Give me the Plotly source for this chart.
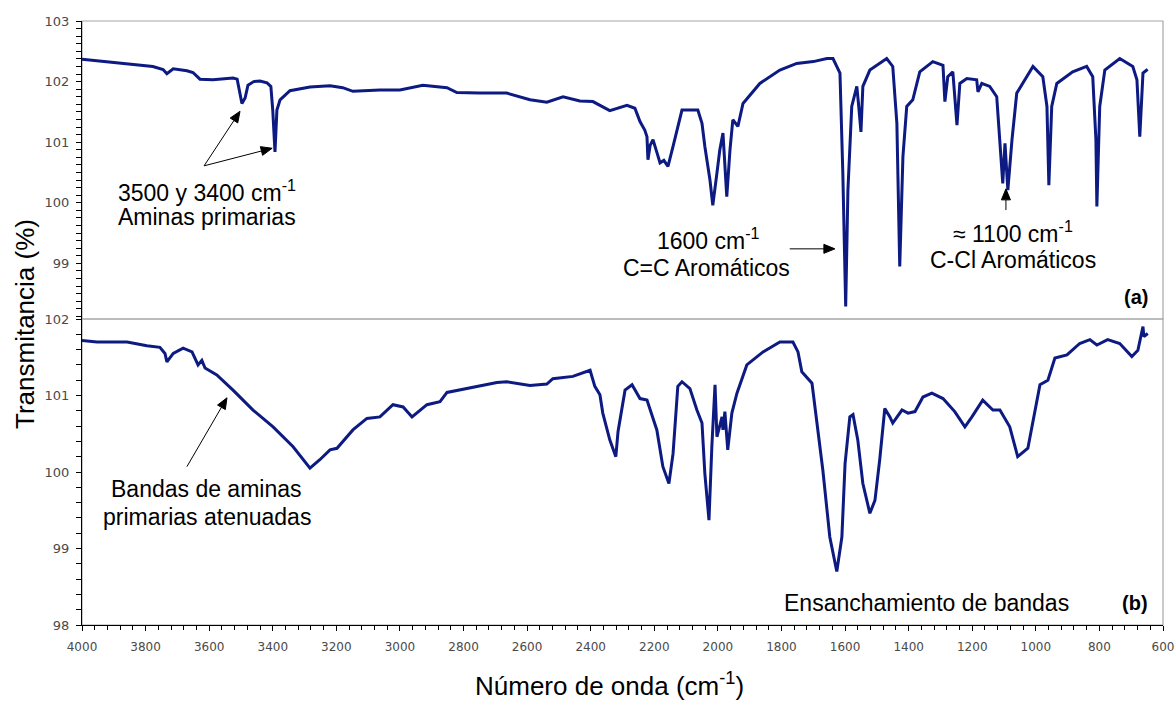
import plotly.graph_objects as go

# ---------------- data ----------------
wn_a = [4000, 3943, 3880, 3818, 3777, 3745, 3733, 3713, 3690, 3670, 3651, 3629, 3588, 3550, 3525, 3512,
        3505, 3497, 3487, 3478, 3460, 3440, 3418, 3406, 3400, 3393, 3387, 3377, 3346, 3283, 3220, 3180,
        3148, 3063, 3000, 2969, 2928, 2852, 2821, 2750, 2695, 2664, 2591, 2538, 2487, 2434, 2393, 2340,
        2286, 2261, 2245, 2230, 2223, 2220, 2213, 2204, 2190, 2182, 2170, 2157, 2141, 2113, 2088, 2063,
        2050, 2041, 2025, 2016, 2003, 1994, 1984, 1972, 1962, 1953, 1937, 1921, 1868, 1805, 1752, 1700,
        1657, 1638, 1616, 1607, 1598, 1591, 1579, 1563, 1557, 1550, 1544, 1522, 1469, 1450, 1437, 1428,
        1418, 1406, 1387, 1365, 1324, 1292, 1286, 1277, 1261, 1248, 1239, 1217, 1186, 1182, 1170, 1145,
        1123, 1113, 1104, 1097, 1088, 1075, 1060, 1009, 978, 965, 959, 950, 934, 884, 840, 821, 811, 808,
        799, 783, 736, 695, 682, 673, 663, 651, 648]
t_a = [102.37, 102.34, 102.30, 102.27, 102.25, 102.20, 102.13, 102.21, 102.19, 102.18, 102.15, 102.04,
       102.03, 102.05, 102.06, 102.04, 101.85, 101.64, 101.73, 101.94, 102.00, 102.01, 101.98, 101.92,
       101.53, 100.84, 101.53, 101.70, 101.85, 101.91, 101.93, 101.90, 101.84, 101.86, 101.86, 101.89,
       101.94, 101.90, 101.82, 101.81, 101.81, 101.81, 101.70, 101.66, 101.75, 101.68, 101.67, 101.52,
       101.61, 101.56, 101.34, 101.20, 101.09, 100.71, 100.95, 101.04, 100.80, 100.66, 100.70, 100.60,
       100.93, 101.53, 101.53, 101.53, 101.31, 100.93, 100.38, 99.96, 100.49, 100.87, 101.15, 100.10,
       100.87, 101.37, 101.26, 101.64, 101.97, 102.19, 102.30, 102.33, 102.38, 102.38, 102.14, 100.49,
       98.29, 100.21, 101.59, 101.92, 101.59, 101.17, 101.92, 102.19, 102.38, 102.25, 101.31, 98.95,
       100.76, 101.59, 101.70, 102.16, 102.33, 102.27, 101.67, 102.08, 102.16, 101.28, 101.97, 102.05,
       102.03, 101.83, 101.97, 101.92, 101.75, 101.04, 100.32, 100.98, 100.21, 101.04, 101.81, 102.25,
       102.08, 101.59, 100.29, 101.59, 101.97, 102.16, 102.25, 102.08, 101.04, 99.94, 101.59, 102.19,
       102.38, 102.25, 102.03, 101.09, 102.14, 102.19, 102.20]

wn_b = [4000, 3953, 3858, 3796, 3755, 3739, 3733, 3713, 3682, 3654, 3635, 3623, 3613, 3576, 3525, 3462,
        3399, 3336, 3283, 3252, 3220, 3198, 3148, 3104, 3063, 3022, 2990, 2962, 2915, 2874, 2852, 2802,
        2695, 2664, 2591, 2538, 2519, 2456, 2402, 2387, 2371, 2362, 2340, 2321, 2314, 2292, 2270, 2245,
        2223, 2192, 2173, 2154, 2141, 2126, 2113, 2088, 2066, 2050, 2041, 2028, 2019, 2009, 2003, 1987,
        1984, 1978, 1969, 1956, 1940, 1909, 1858, 1805, 1764, 1748, 1736, 1704, 1689, 1670, 1648, 1626,
        1610, 1600, 1585, 1575, 1560, 1544, 1522, 1506, 1491, 1475, 1459, 1450, 1421, 1402, 1380, 1355,
        1327, 1292, 1255, 1223, 1201, 1167, 1135, 1113, 1082, 1057, 1025, 1009, 987, 962, 940, 902, 862,
        830, 808, 774, 736, 698, 679, 663, 660, 648]
t_b = [101.72, 101.70, 101.70, 101.65, 101.63, 101.55, 101.44, 101.55, 101.62, 101.57, 101.40, 101.46,
       101.36, 101.27, 101.07, 100.81, 100.59, 100.33, 100.05, 100.16, 100.29, 100.31, 100.55, 100.70,
       100.72, 100.88, 100.85, 100.72, 100.88, 100.92, 101.04, 101.08, 101.17, 101.18, 101.13, 101.15,
       101.22, 101.25, 101.33, 101.12, 101.01, 100.77, 100.42, 100.20, 100.53, 101.07, 101.14, 100.96,
       100.94, 100.55, 100.07, 99.85, 100.24, 101.12, 101.18, 101.09, 100.81, 100.64, 99.98, 99.37,
       100.33, 101.14, 100.46, 100.72, 100.55, 100.79, 100.29, 100.77, 101.03, 101.40, 101.57, 101.70,
       101.70, 101.57, 101.31, 101.16, 100.68, 100.03, 99.15, 98.70, 99.15, 100.11, 100.72, 100.75,
       100.42, 99.85, 99.46, 99.63, 100.16, 100.83, 100.72, 100.64, 100.81, 100.77, 100.79, 100.98,
       101.03, 100.96, 100.79, 100.59, 100.72, 100.94, 100.81, 100.81, 100.59, 100.20, 100.31, 100.68,
       101.14, 101.20, 101.49, 101.53, 101.68, 101.73, 101.66, 101.73, 101.68, 101.51, 101.59, 101.90,
       101.77, 101.81]

x_ticks = [4000, 3800, 3600, 3400, 3200, 3000, 2800, 2600, 2400, 2200, 2000, 1800, 1600, 1400, 1200,
           1000, 800, 600]
ya_ticks = [99, 100, 101, 102, 103]
yb_ticks = [98, 99, 100, 101, 102]

# ---------------- geometry / styling ----------------
W, H = 1176, 703
ML, MR, MT, MB = 82, 13, 21, 78
PW, PH = W - ML - MR, H - MT - MB
SPLIT = 306 / PH
YA_LOW = 103 - 298 / 60.6

LINE = "#0c1a82"
ARIAL = "Liberation Sans, Arial, sans-serif"
TICKF = dict(family="DejaVu Sans, Verdana, sans-serif", size=12, color="#4a4a4a")
FRAME = "#a6a6a6"
ANN = 23

fig = go.Figure()
fig.add_trace(go.Scatter(x=wn_a, y=t_a, mode="lines", xaxis="x2", yaxis="y2",
                         line=dict(color=LINE, width=3), showlegend=False, hoverinfo="skip"))
fig.add_trace(go.Scatter(x=wn_b, y=t_b, mode="lines", xaxis="x", yaxis="y",
                         line=dict(color=LINE, width=3), showlegend=False, hoverinfo="skip"))

common_y = dict(showgrid=False, zeroline=False, showline=True, linecolor="black", linewidth=1,
                ticks="outside", ticklen=5, tickcolor="black", tickfont=dict(TICKF, size=13),
                automargin=False, ticklabelstandoff=4)

fig.update_layout(
    width=W, height=H,
    margin=dict(l=ML, r=MR, t=MT, b=MB, autoexpand=False),
    paper_bgcolor="white", plot_bgcolor="white",
    showlegend=False,
    xaxis=dict(domain=[0, 1], range=[4000, 600], anchor="y", showgrid=False, zeroline=False,
               showline=True, linecolor="black", linewidth=1, ticks="outside", ticklen=5,
               tickcolor="black", tickvals=x_ticks, ticktext=[str(v) for v in x_ticks],
               tickfont=TICKF, automargin=False, ticklabelstandoff=6,
               minor=dict(dtick=40, tick0=0, ticks="outside", ticklen=4, tickcolor="black")),
    xaxis2=dict(domain=[0, 1], range=[4000, 600], anchor="y2", matches="x", showgrid=False,
                zeroline=False, showline=False, showticklabels=False, ticks="", automargin=False),
    yaxis=dict(domain=[0, SPLIT], range=[98, 102], anchor="x", tickvals=yb_ticks,
               minor=dict(dtick=0.2, tick0=98, ticks="outside", ticklen=5, tickcolor="black"),
               **common_y),
    yaxis2=dict(domain=[SPLIT, 1], range=[YA_LOW, 103], anchor="x2", tickvals=ya_ticks,
                minor=dict(dtick=0.125, tick0=99, ticks="outside", ticklen=5, tickcolor="black"),
                **common_y),
)

# gray panel frames
for yr in ["y domain", "y2 domain"]:
    fig.add_shape(type="rect", xref="x domain", yref=yr, x0=0, x1=1, y0=0, y1=1,
                  line=dict(color=FRAME, width=1.2), layer="below")


# pixel helpers for arrows (arrows are drawn as shapes in paper space)
def px(wn):
    return ML + (4000 - wn) / 3400 * PW


def py_a(v):
    return MT + (103 - v) / (103 - YA_LOW) * (PH - 306)


def py_b(v):
    return MT + (PH - 306) + (102 - v) / 4 * 306


def to_paper(x, y):
    return (x - ML) / PW, (H - MB - y) / PH


def arrow(x0, y0, x1, y1, head=11, half=4.5):
    # tail (x0,y0) -> tip (x1,y1), pixel coordinates
    dx, dy = x1 - x0, y1 - y0
    L = (dx * dx + dy * dy) ** 0.5
    ux, uy = dx / L, dy / L
    bx, by = x1 - ux * head, y1 - uy * head
    nx, ny = -uy, ux
    p0 = to_paper(x0, y0)
    pb = to_paper(bx, by)
    fig.add_shape(type="line", xref="paper", yref="paper", x0=p0[0], y0=p0[1], x1=pb[0], y1=pb[1],
                  line=dict(color="black", width=1))
    pts = [to_paper(x1, y1), to_paper(bx + nx * half, by + ny * half),
           to_paper(bx - nx * half, by - ny * half)]
    path = "M {} {} L {} {} L {} {} Z".format(*[c for p in pts for c in p])
    fig.add_shape(type="path", xref="paper", yref="paper", path=path,
                  fillcolor="black", line=dict(color="black", width=1))


annots = []


def txt(text, x, y, xref, yref, size=ANN, xanchor="center", bold=False):
    annots.append(dict(text=f"<b>{text}</b>" if bold else text, x=x, y=y, xref=xref, yref=yref,
                       showarrow=False, xanchor=xanchor, yanchor="middle",
                       font=dict(family=ARIAL, size=size, color="black")))


# top panel (a)
txt("3500 y 3400 cm<sup>-1</sup>", 3893, 100.20, "x2", "y2", xanchor="left")
txt("Aminas primarias", 3893, 99.77, "x2", "y2", xanchor="left")
arrow(px(3616), py_a(100.61), px(3503), py_a(101.51))
arrow(px(3616), py_a(100.61), px(3402), py_a(100.90))
txt("1600 cm<sup>-1</sup>", 2031, 99.41, "x2", "y2")
txt("C=C Aromáticos", 2037, 98.92, "x2", "y2")
arrow(px(1774), py_a(99.24), px(1632), py_a(99.24))
txt("≈ 1100 cm<sup>-1</sup>", 1072, 99.52, "x2", "y2")
txt("C-Cl Aromáticos", 1072, 99.06, "x2", "y2")
arrow(px(1094), py_a(99.88), px(1094), py_a(100.23))
txt("(a)", 686, 98.45, "x2", "y2", size=20, bold=True)

# bottom panel (b)
txt("Bandas de aminas", 3607, 99.78, "x", "y")
txt("primarias atenuadas", 3607, 99.41, "x", "y")
arrow(px(3670), py_b(100.07), px(3544), py_b(100.97))
txt("Ensanchamiento de bandas", 1343, 98.29, "x", "y")
txt("(b)", 689, 98.29, "x", "y", size=20, bold=True)

# axis titles
annots.append(dict(text="Transmitancia (%)", x=(25 - ML) / PW, y=(H - MB - 324) / PH,
                   xref="paper", yref="paper", showarrow=False, textangle=-90,
                   xanchor="center", yanchor="middle",
                   font=dict(family=ARIAL, size=26, color="black")))
annots.append(dict(text="Número de onda (cm<sup>-1</sup>)", x=(609 - ML) / PW, y=(H - MB - 702) / PH,
                   xref="paper", yref="paper", showarrow=False, xanchor="center", yanchor="bottom",
                   borderpad=0, font=dict(family=ARIAL, size=26, color="black")))

fig.update_layout(annotations=annots)
fig.write_html("out.html")
